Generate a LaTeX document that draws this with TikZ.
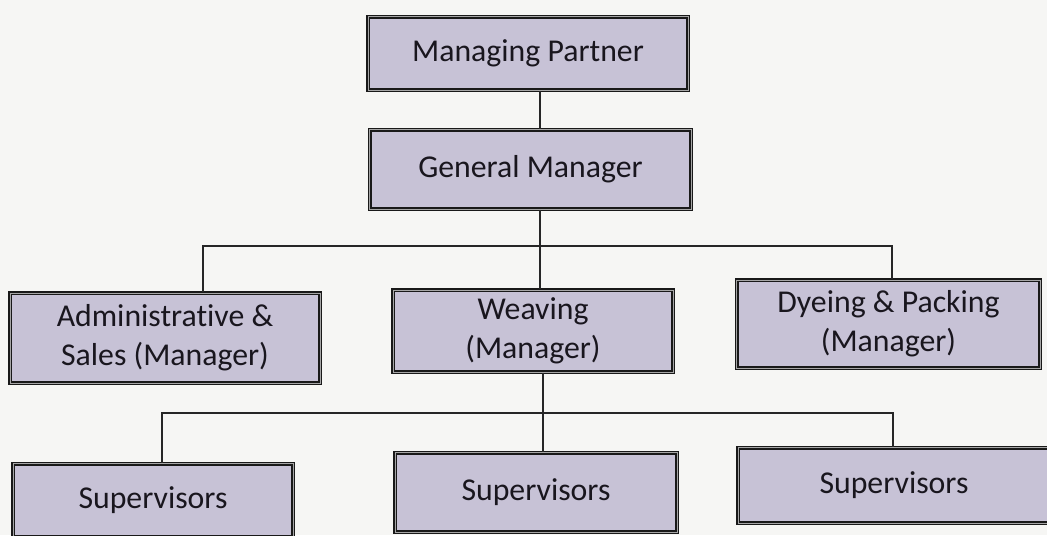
\documentclass[tikz,border=0pt]{standalone}
\usepackage{fontspec}
\setmainfont[Ligatures=NoCommon]{Carlito}
\definecolor{relleno}{RGB}{199,194,214}
\definecolor{fondo}{RGB}{246,246,244}
\definecolor{tinta}{RGB}{25,22,30}

\begin{document}
\begin{tikzpicture}[
    x=0.025cm,
    y=-0.025cm,
    font=\fontsize{22.6}{27.5}\selectfont,
    caja/.style={draw=black!90,double=gray!70,double distance=0.6pt,line width=0.95pt,
        fill=relleno,text=tinta,align=center,inner sep=0pt},
    linea/.style={black!85,line width=1.3pt}
]
    \useasboundingbox[fill=fondo] (0,0) rectangle (1047,535);

    % niveles de mando
    \node[caja,minimum width=8.0cm,minimum height=1.83cm] (socio) at (528,53.5) {Managing Partner};
    \node[caja,minimum width=8.03cm,minimum height=1.98cm] (gerente) at (530.5,169.5) {General Manager};

    \node[caja,minimum width=7.75cm,minimum height=2.25cm] (admin) at (165,338)
        {Administrative \&\\Sales (Manager)};
    \node[caja,minimum width=7.0cm,minimum height=2.05cm] (tejido) at (533,331)
        {Weaving\\(Manager)};
    \node[caja,minimum width=7.58cm,minimum height=2.2cm] (tenido) at (888.5,324)
        {Dyeing \& Packing\\(Manager)};

    \node[caja,minimum width=7.0cm,minimum height=1.83cm] (sup1) at (153,500.5) {Supervisors};
    \node[caja,minimum width=7.05cm,minimum height=1.98cm] (sup2) at (536,492.5) {Supervisors};
    \node[caja,minimum width=7.8cm,minimum height=1.88cm] (sup3) at (894,485.5) {Supervisors};

    % troncos y ramas
    \coordinate (bus1) at (540,246);
    \coordinate (ramaA) at (203,246);
    \coordinate (ramaD) at (892,246);
    \coordinate (bus2) at (543,413);
    \coordinate (ramaS1) at (162,413);
    \coordinate (ramaS3) at (893,413);

    \draw[linea] (bus1 |- socio.south) -- (bus1 |- gerente.north);
    \draw[linea] (bus1 |- gerente.south) -- (bus1 |- tejido.north);
    \draw[linea] (ramaA |- admin.north) -- (ramaA) -- (ramaD) -- (ramaD |- tenido.north);

    \draw[linea] (bus2 |- tejido.south) -- (bus2 |- sup2.north);
    \draw[linea] (ramaS1 |- sup1.north) -- (ramaS1) -- (ramaS3) -- (ramaS3 |- sup3.north);
\end{tikzpicture}
\end{document}
